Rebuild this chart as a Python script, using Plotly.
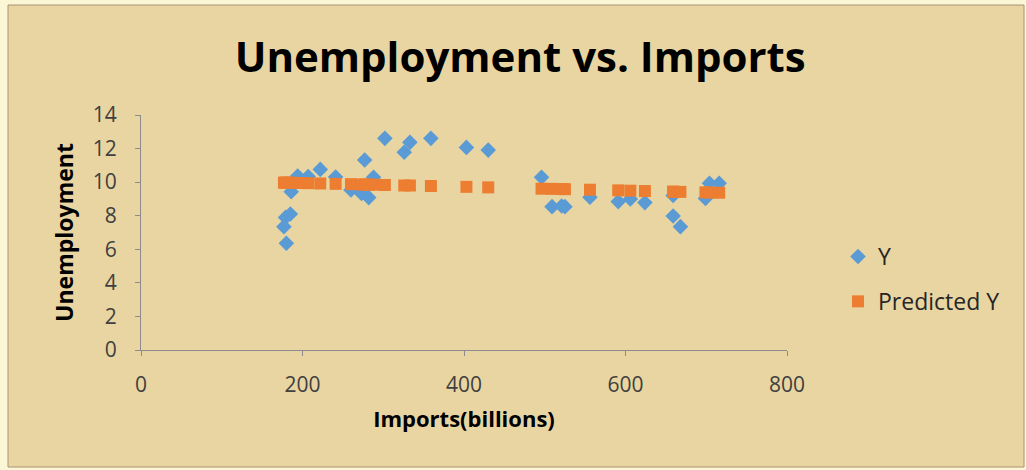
import plotly.graph_objects as go

# Imports (billions) and unemployment rate, with the fitted regression values
imports = [177, 179, 180, 185, 186, 194, 207, 222, 241, 260, 273, 277, 282, 288,
           302, 326, 333, 359, 403, 430, 496, 509, 521, 525, 556, 591, 606, 624,
           659, 659, 668, 699, 704, 716]
unemployment = [7.35, 7.9, 6.36, 8.1, 9.43, 10.37, 10.33, 10.76, 10.3, 9.53, 9.33,
                11.32, 9.08, 10.29, 12.61, 11.78, 12.37, 12.61, 12.07, 11.91, 10.29,
                8.54, 8.58, 8.54, 9.1, 8.84, 9.0, 8.78, 7.98, 9.2, 7.35, 9.03, 9.93,
                9.93]
predicted = [9.97, 9.97, 9.97, 9.96, 9.96, 9.95, 9.94, 9.92, 9.90, 9.88, 9.86,
             9.86, 9.85, 9.85, 9.83, 9.80, 9.80, 9.77, 9.72, 9.69, 9.61, 9.60,
             9.59, 9.58, 9.55, 9.51, 9.49, 9.47, 9.43, 9.43, 9.42, 9.39, 9.38,
             9.37]

W, H = 1026, 470
L, R, T, B = 141, 239, 115, 120
PW, PH = W - L - R, H - T - B


def px_x(p):
    return (p - L) / PW


def px_y(p):
    return (H - B - p) / PH


FONT = "'Open Sans', Lato, sans-serif"
TICK = "#404040"

fig = go.Figure()
fig.add_trace(go.Scatter(
    x=imports, y=unemployment, mode="markers", name="Y", legendgroup="a",
    marker=dict(symbol="diamond", size=12, color="#5B9BD5"),
))
fig.add_trace(go.Scatter(
    x=imports, y=predicted, mode="markers", name="Predicted Y", legendgroup="b",
    marker=dict(symbol="square", size=12, color="#ED7D31"),
))

fig.update_layout(
    width=W, height=H,
    margin=dict(l=L, r=R, t=T, b=B, pad=0),
    paper_bgcolor="#fbf6d6",
    plot_bgcolor="#ffffff",
    title=dict(text="<b>Unemployment vs. Imports</b>", x=0.507, xanchor="center",
               y=1 - 57 / H, yanchor="middle",
               font=dict(family=FONT, size=42, color="#000000")),
    font=dict(family=FONT, color=TICK),
    showlegend=True,
    legend=dict(x=px_x(838), xanchor="left", y=px_y(235), yanchor="top",
                tracegroupgap=12, bgcolor="rgba(0,0,0,0)",
                font=dict(family=FONT, size=23, color="#262626")),
    shapes=[dict(type="rect", xref="paper", yref="paper", layer="below",
                 x0=px_x(8), x1=px_x(1024), y0=px_y(467), y1=px_y(5),
                 fillcolor="#e9d5a2", line=dict(color="#a89272", width=1))],
)

fig.update_xaxes(
    range=[0, 800], dtick=200, showgrid=False, zeroline=False,
    showline=True, linecolor="#8c8c8c", linewidth=1,
    ticks="outside", ticklen=5, tickcolor="#8c8c8c",
    ticklabelstandoff=11,
    tickfont=dict(family=FONT, size=21, color=TICK),
    title=dict(text="<b>Imports(billions)</b>", standoff=14,
               font=dict(family=FONT, size=22, color="#000000")),
)
fig.update_yaxes(
    range=[0, 14], dtick=2, showgrid=False, zeroline=False,
    showline=True, linecolor="#8c8c8c", linewidth=1,
    ticks="outside", ticklen=5, tickcolor="#8c8c8c",
    ticklabelstandoff=14,
    tickfont=dict(family=FONT, size=21, color=TICK),
    title=dict(text="<b>Unemployment</b>", standoff=12,
               font=dict(family=FONT, size=23, color="#000000")),
)

fig.write_html("out.html")
